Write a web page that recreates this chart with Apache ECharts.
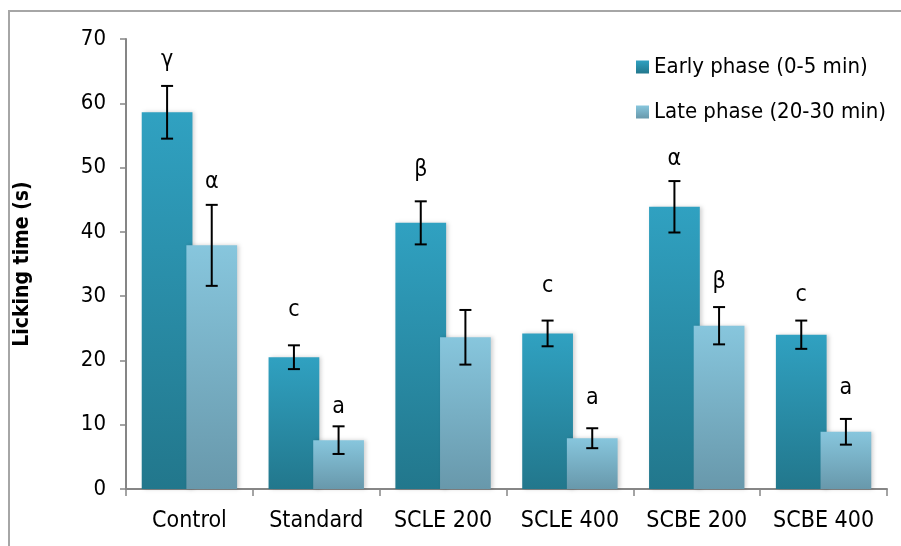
<!DOCTYPE html>
<html>
<head>
<meta charset="utf-8">
<script src="https://cdn.jsdelivr.net/npm/echarts@6/dist/echarts.min.js"></script>
<style>
  html, body { margin: 0; padding: 0; background: #fff; }
  #chart { width: 901px; height: 546px; }
</style>
</head>
<body>
<div id="chart"></div>
<script>
// Formalin test: licking time per treatment group, mean ± error
const categories = ['Control', 'Standard', 'SCLE 200', 'SCLE 400', 'SCBE 200', 'SCBE 400'];
const seriesNames = ['Early phase (0-5 min)', 'Late phase (20-30 min)'];

const earlyMean = [58.6, 20.5, 41.4, 24.2, 43.9, 24.0];
const earlyErr  = [4.1, 1.85, 3.35, 2.0, 4.0, 2.2];
const lateMean  = [37.9, 7.6, 23.6, 7.9, 25.4, 8.9];
const lateErr   = [6.3, 2.15, 4.25, 1.55, 2.9, 2.0];

// Significance letters and the height (in seconds) at which each one sits
const earlyLetter  = ['γ', 'c', 'β', 'c', 'α', 'c'];
const earlyLetterY = [66.7, 27.8, 49.6, 31.5, 51.4, 30.2];
const lateLetter   = ['α', 'a', '', 'a', 'β', 'a'];
const lateLetterY  = [47.7, 12.8, 0, 14.2, 32.2, 15.7];

const yTicks = { min: 0, max: 70, interval: 10 };

const FONT = '"DejaVu Sans Condensed", "DejaVu Sans", sans-serif';
const BAR_WIDTH = 0.40;   // fraction of category band
const BAR_GAP = -0.12;    // bars overlap slightly

const earlyFill = new echarts.graphic.LinearGradient(0, 0, 0, 1, [
  { offset: 0, color: '#30a1c1' },
  { offset: 1, color: '#22778c' }
]);
const lateFill = new echarts.graphic.LinearGradient(0, 0, 0, 1, [
  { offset: 0, color: '#87c6dd' },
  { offset: 1, color: '#6898ab' }
]);

function errorRenderer(means, errs, letters, letterYs, side) {
  return function (params, api) {
    const i = api.value(0);
    const band = api.size([1, 0])[0];
    const off = side * band * BAR_WIDTH * (1 + BAR_GAP) / 2;
    const top = api.coord([i, means[i] + errs[i]]);
    const bot = api.coord([i, means[i] - errs[i]]);
    const x = top[0] + off;
    const cap = 6;
    const style = { stroke: '#000', lineWidth: 2 };
    const children = [
      { type: 'line', shape: { x1: x, y1: top[1], x2: x, y2: bot[1] }, style },
      { type: 'line', shape: { x1: x - cap, y1: top[1], x2: x + cap, y2: top[1] }, style },
      { type: 'line', shape: { x1: x - cap, y1: bot[1], x2: x + cap, y2: bot[1] }, style }
    ];
    if (letters[i]) {
      const ly = api.coord([i, letterYs[i]])[1];
      children.push({
        type: 'text',
        style: {
          x: x, y: ly, text: letters[i],
          font: '23px ' + FONT, fill: '#000',
          align: 'center', verticalAlign: 'middle'
        }
      });
    }
    return { type: 'group', children };
  };
}

const chart = echarts.init(document.getElementById('chart'), null, { renderer: 'canvas' });

chart.setOption({
  animation: false,
  backgroundColor: '#fff',
  grid: { left: 126, right: 14, top: 39, bottom: 57 },
  legend: {
    orient: 'vertical',
    left: 631,
    top: 51,
    itemWidth: 13,
    itemHeight: 13,
    itemGap: 23,
    icon: 'rect',
    textStyle: { fontFamily: FONT, fontSize: 22, color: '#000' },
    data: seriesNames
  },
  xAxis: {
    type: 'category',
    data: categories,
    axisLine: { lineStyle: { color: '#868686', width: 2 } },
    axisTick: { show: true, interval: 0, length: 7, lineStyle: { color: '#868686', width: 1.5 } },
    axisLabel: { interval: 0, hideOverlap: false, fontFamily: FONT, fontSize: 23, color: '#000', margin: 21 }
  },
  yAxis: {
    type: 'value',
    min: yTicks.min,
    max: yTicks.max,
    interval: yTicks.interval,
    axisLine: { show: true, lineStyle: { color: '#868686', width: 2 } },
    axisTick: { show: true, length: 6, lineStyle: { color: '#868686', width: 1.5 } },
    axisLabel: { fontFamily: FONT, fontSize: 22, color: '#000', margin: 20 },
    splitLine: { show: false }
  },
  graphic: [
    {
      type: 'rect',
      shape: { x: 9, y: 11, width: 1000, height: 1000 },
      style: { fill: 'none', stroke: '#a6a6a6', lineWidth: 2 },
      silent: true
    },
    {
      type: 'text',
      x: 23, y: 264,
      rotation: Math.PI / 2,
      style: {
        text: 'Licking time (s)',
        font: 'bold 21px ' + FONT,
        fill: '#000',
        align: 'center',
        verticalAlign: 'middle'
      }
    }
  ],
  series: [
    {
      name: seriesNames[0],
      type: 'bar',
      data: earlyMean,
      barWidth: (BAR_WIDTH * 100) + '%',
      barGap: (BAR_GAP * 100) + '%',
      itemStyle: {
        color: earlyFill,
        shadowColor: 'rgba(0,0,0,0.18)', shadowBlur: 4, shadowOffsetX: 2
      },
      z: 2
    },
    {
      name: seriesNames[1],
      type: 'bar',
      data: lateMean,
      barWidth: (BAR_WIDTH * 100) + '%',
      barGap: (BAR_GAP * 100) + '%',
      itemStyle: {
        color: lateFill,
        shadowColor: 'rgba(0,0,0,0.18)', shadowBlur: 4, shadowOffsetX: 2
      },
      z: 3
    },
    {
      type: 'custom',
      data: categories.map((c, i) => [i]),
      renderItem: errorRenderer(earlyMean, earlyErr, earlyLetter, earlyLetterY, -1),
      z: 5, silent: true
    },
    {
      type: 'custom',
      data: categories.map((c, i) => [i]),
      renderItem: errorRenderer(lateMean, lateErr, lateLetter, lateLetterY, 1),
      z: 5, silent: true
    }
  ]
});
</script>
</body>
</html>
